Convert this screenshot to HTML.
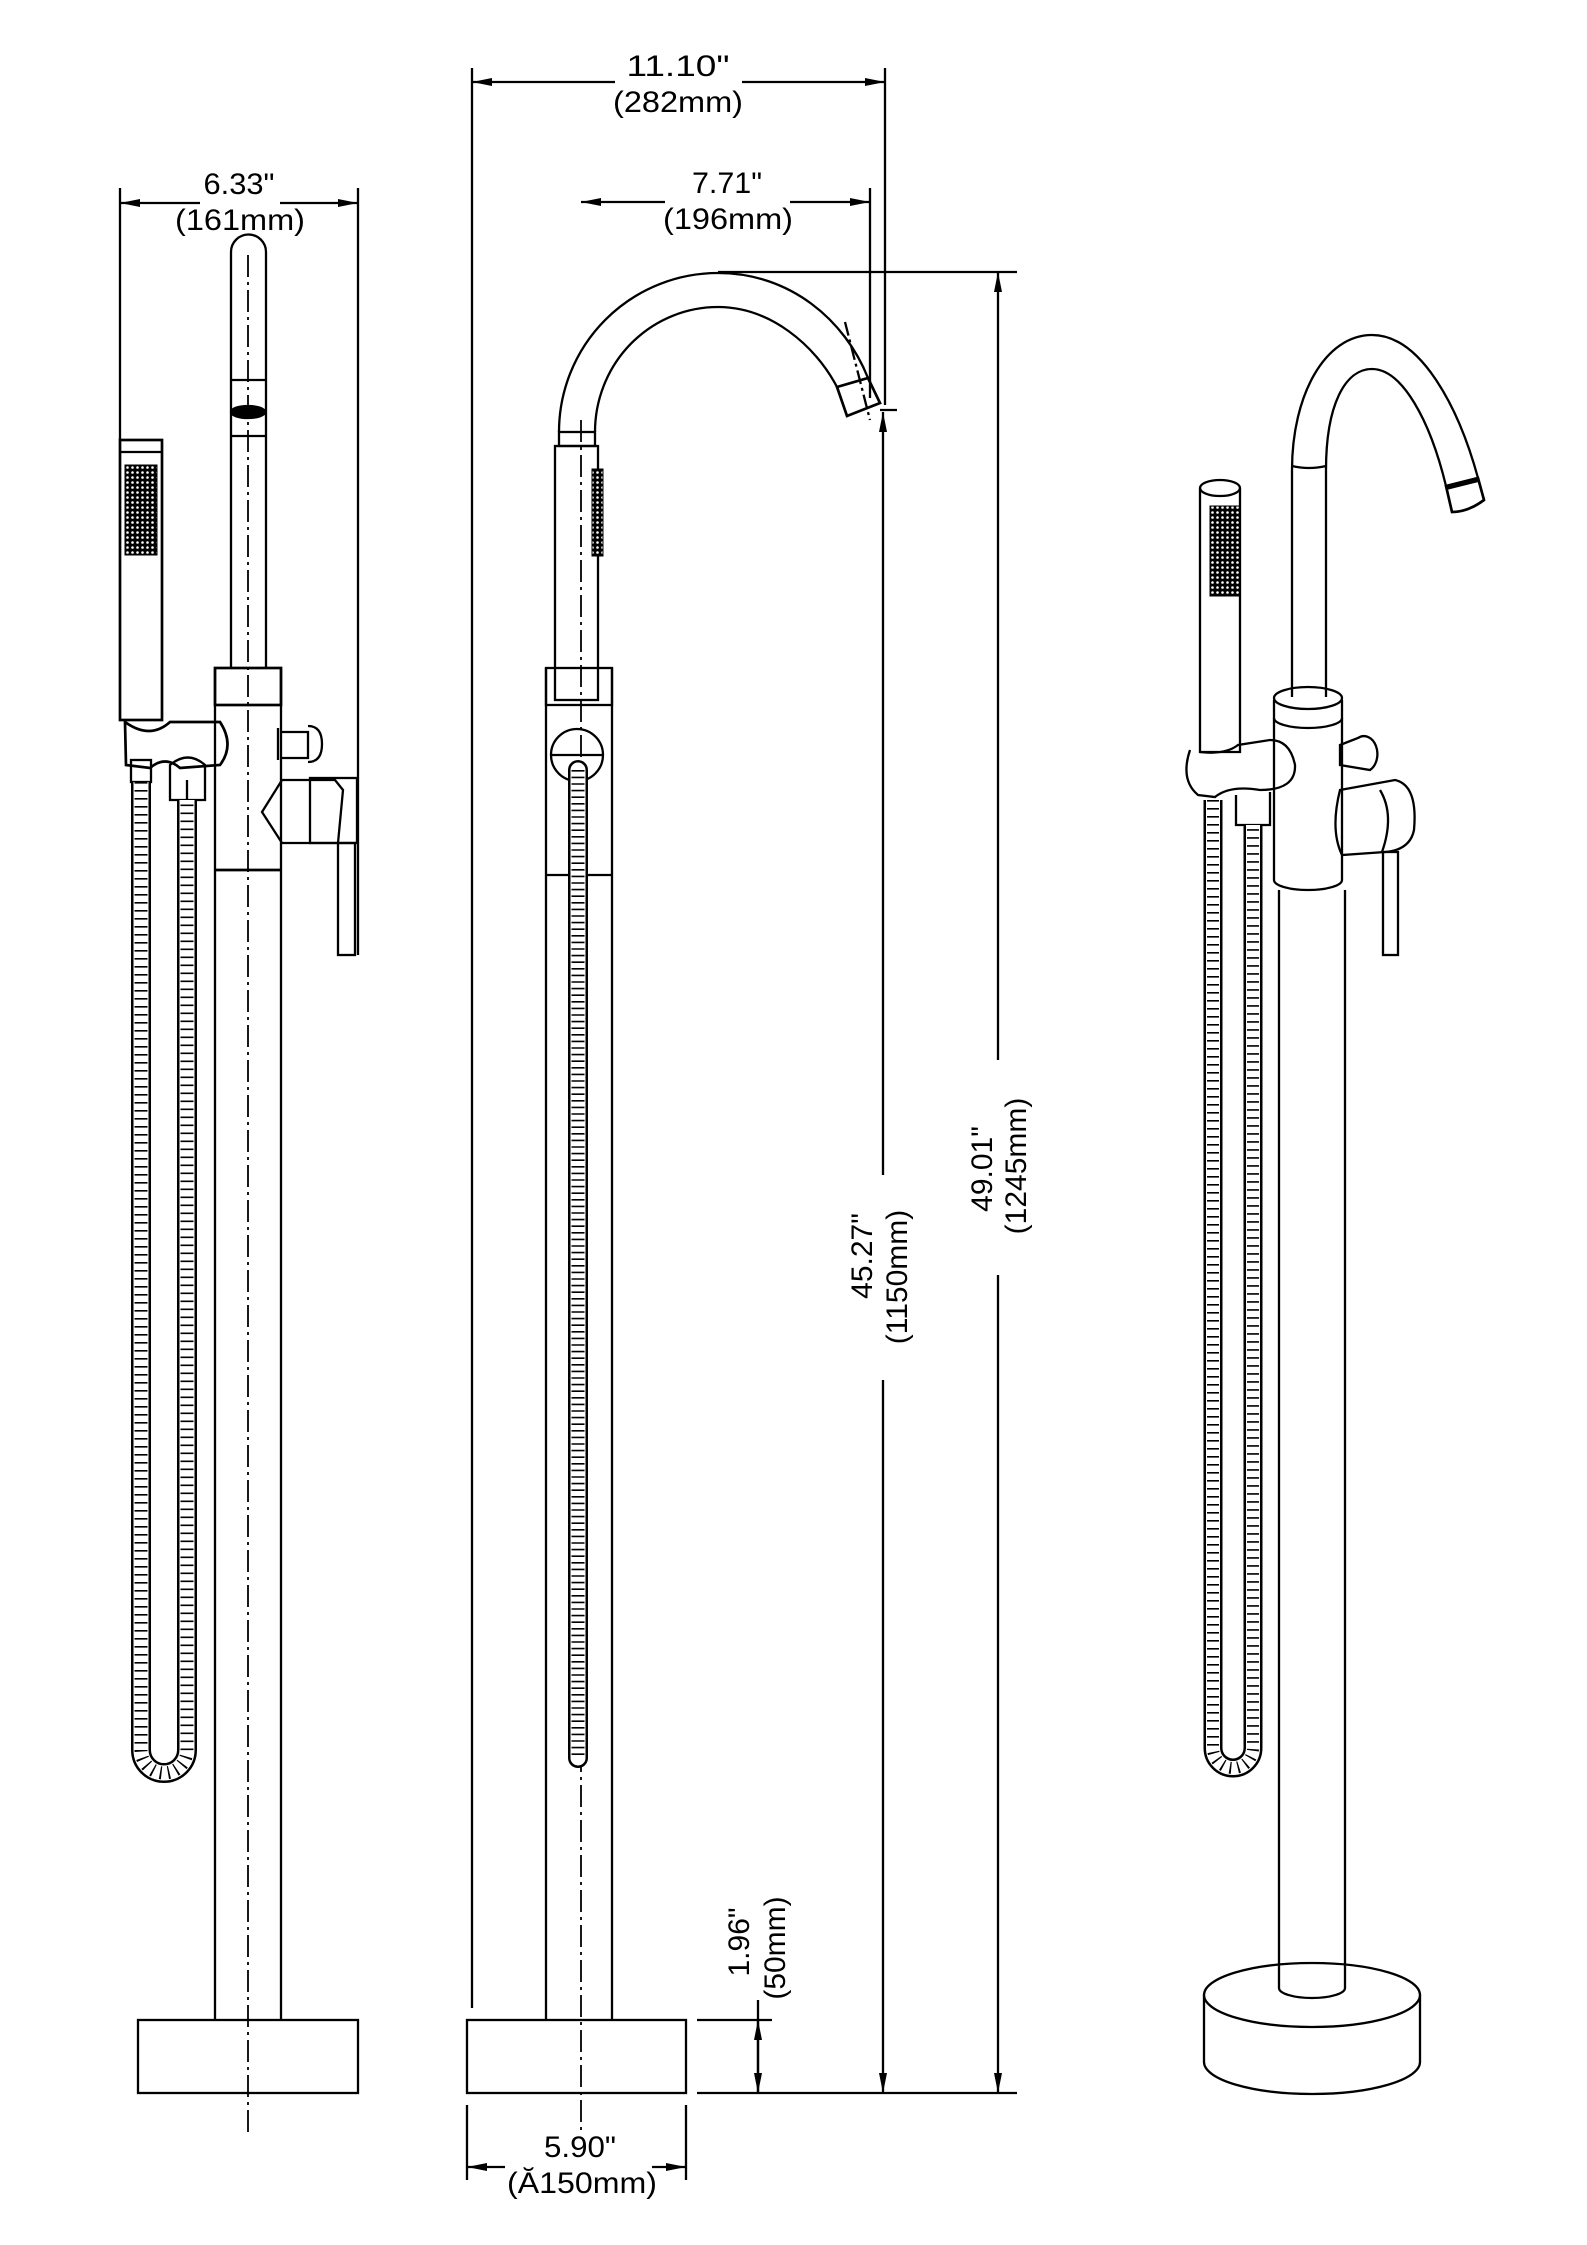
<!DOCTYPE html>
<html><head><meta charset="utf-8"><style>
html,body{margin:0;padding:0;background:#fff;}
svg{display:block;}
text{font-family:"Liberation Sans",sans-serif;fill:#000;}
</style></head><body>
<svg width="1587" height="2245" viewBox="0 0 1587 2245" xmlns="http://www.w3.org/2000/svg">
<defs>
<marker id="a" viewBox="0 0 20 8" refX="20" refY="4" markerWidth="20" markerHeight="8" markerUnits="userSpaceOnUse" orient="auto-start-reverse"><path d="M0,0 L20,4 L0,8 Z" fill="#000"/></marker>
<pattern id="g" width="5" height="5" patternUnits="userSpaceOnUse"><rect width="5" height="5" fill="#000"/><circle cx="2.5" cy="2.5" r="1.3" fill="#fff"/></pattern>
</defs>
<g fill="none" stroke="#000" stroke-width="2.3">
<line x1="472" y1="68" x2="472" y2="2008"/>
<line x1="885" y1="68" x2="885" y2="405"/>
<line x1="472" y1="82" x2="615" y2="82" marker-start="url(#a)"/>
<line x1="742" y1="82" x2="885" y2="82" marker-end="url(#a)"/>
<line x1="120" y1="188" x2="120" y2="440"/>
<line x1="358" y1="188" x2="358" y2="955"/>
<line x1="120" y1="203" x2="200" y2="203" marker-start="url(#a)"/>
<line x1="280" y1="203" x2="358" y2="203" marker-end="url(#a)"/>
<line x1="870" y1="188" x2="870" y2="398"/>
<line x1="581" y1="202" x2="665" y2="202" marker-start="url(#a)"/>
<line x1="790" y1="202" x2="870" y2="202" marker-end="url(#a)"/>
<line x1="718" y1="272" x2="1017" y2="272"/>
<line x1="697" y1="2093" x2="1017" y2="2093"/>
<line x1="998" y1="272" x2="998" y2="1060" marker-start="url(#a)"/>
<line x1="998" y1="1275" x2="998" y2="2093" marker-end="url(#a)"/>
<line x1="880" y1="410" x2="897" y2="410"/>
<line x1="883" y1="412" x2="883" y2="1175" marker-start="url(#a)"/>
<line x1="883" y1="1380" x2="883" y2="2093" marker-end="url(#a)"/>
<line x1="697" y1="2020" x2="772" y2="2020"/>
<line x1="758" y1="2000" x2="758" y2="2093"/>
<line x1="758" y1="2020" x2="758" y2="2056" marker-start="url(#a)"/>
<line x1="758" y1="2056" x2="758" y2="2093" marker-end="url(#a)"/>
<line x1="467" y1="2105" x2="467" y2="2180"/>
<line x1="686" y1="2105" x2="686" y2="2180"/>
<line x1="467" y1="2167" x2="505" y2="2167" marker-start="url(#a)"/>
<line x1="652" y1="2167" x2="686" y2="2167" marker-end="url(#a)"/>

<!-- LEFT VIEW -->
<line x1="248" y1="255" x2="248" y2="2135" stroke-dasharray="22 5 3 5" stroke-width="1.8"/>
<rect x="138" y="2020" width="220" height="73"/>
<line x1="215" y1="668" x2="215" y2="2020"/>
<line x1="281" y1="668" x2="281" y2="2020"/>
<rect x="215" y="668" width="66" height="37" stroke-width="2.7"/>
<line x1="215" y1="870" x2="281" y2="870" stroke-width="2.7"/>
<path d="M231,668 L231,252 A17.5,17.5 0 0 1 266,252 L266,668"/>
<line x1="231" y1="380" x2="266" y2="380"/>
<line x1="231" y1="436" x2="266" y2="436"/>
<ellipse cx="248" cy="412" rx="17" ry="6" fill="#000"/>
<rect x="120" y="440" width="42" height="280" stroke-width="2.7"/>
<line x1="120" y1="452" x2="162" y2="452"/>
<path d="M125,722 Q150,740 170,722 L220,722 Q235,745 220,765 L180,768 Q165,755 150,768 L126,765 Z" stroke-width="2.7"/>
<path d="M278,728 L278,760 M282,732 L308,732 L308,758 L282,758 M308,726 Q322,726 322,744 Q322,762 308,762"/>
<path d="M282,780 L335,780 L343,790 L338,843 L282,843 L262,812 Z"/>
<rect x="310" y="778" width="47" height="65"/>
<rect x="338" y="843" width="17" height="112"/>
<rect x="131" y="760" width="20" height="22"/>
<path d="M170,765 Q188,750 205,765 L205,800 L170,800 Z"/>
<line x1="187" y1="780" x2="187" y2="800"/>

<!-- MIDDLE VIEW -->
<line x1="581" y1="420" x2="581" y2="2135" stroke-dasharray="22 5 3 5" stroke-width="1.8"/>
<rect x="467" y="2020" width="219" height="73"/>
<line x1="546" y1="668" x2="546" y2="2020"/>
<line x1="612" y1="668" x2="612" y2="2020"/>
<rect x="546" y="668" width="66" height="37"/>
<line x1="546" y1="875" x2="612" y2="875"/>
<path d="M559,432 A159,159 0 0 1 718,273 C790,273 845,320 868,378"/>
<path d="M595,432 A123,125 0 0 1 718,307 C770,307 815,345 837,387"/>
<path d="M837,387 L868,378 L880,403 L847,416 Z" stroke-width="2.7"/>
<line x1="845" y1="322" x2="870" y2="420" stroke-dasharray="14 4 3 4"/>
<rect x="559" y="432" width="36" height="14"/>
<rect x="555" y="446" width="43" height="254"/>
<circle cx="577" cy="755" r="26"/>
<line x1="551" y1="755" x2="603" y2="755"/>

<!-- RIGHT VIEW -->
<path d="M1204,1995 L1204,2062 A108,32 0 0 0 1420,2062 L1420,1995"/>
<ellipse cx="1312" cy="1995" rx="108" ry="32" fill="#fff"/>
<path d="M1279,890 L1279,1988 A33,10 0 0 0 1345,1988 L1345,890"/>
<path d="M1274,700 L1274,880 A34,10 0 0 0 1342,880 L1342,700"/>
<ellipse cx="1308" cy="698" rx="34" ry="11"/>
<path d="M1274,718 A34,10 0 0 0 1342,718"/>
<path d="M1292,697 L1292,470 C1292,395 1325,335 1372,335 C1420,335 1458,405 1478,478"/>
<path d="M1326,697 L1326,470 C1326,405 1345,369 1372,369 C1402,369 1430,420 1446,486"/>
<path d="M1292,466 Q1309,470 1326,466"/>
<path d="M1446,486 L1478,478 L1484,500 Q1468,512 1452,512 Z" stroke-width="2.7"/>
<line x1="1446" y1="488" x2="1478" y2="480" stroke-width="4"/>
<path d="M1200,488 L1200,752 L1240,752 L1240,488"/>
<ellipse cx="1220" cy="488" rx="20" ry="8"/>
<path d="M1190,750 Q1180,780 1198,795 L1215,797 Q1230,785 1260,790 Q1296,790 1295,765 Q1290,740 1270,740 L1238,745 Q1225,755 1200,752"/>
<path d="M1236,795 L1236,825 L1270,825 L1270,792"/>
<path d="M1340,745 L1358,738 A12,16 0 0 1 1370,770 L1340,765 Z"/>
<path d="M1340,790 L1395,780 Q1418,785 1414,830 Q1410,850 1385,852 L1342,855 Q1330,830 1340,790 Z"/>
<path d="M1380,790 Q1395,815 1382,852"/>
<rect x="1383" y="852" width="15" height="103"/>
</g>

<rect x="125" y="465" width="32" height="90" fill="url(#g)" stroke="#000" stroke-width="1"/>
<rect x="592" y="469" width="11" height="87" fill="url(#g)" stroke="#000" stroke-width="1"/>
<rect x="1210" y="506" width="30" height="90" fill="url(#g)" stroke="#000" stroke-width="1"/>

<!-- hoses -->
<g fill="none">
<path d="M141,782 L141,1750 A23,23 0 0 0 187,1750 L187,800" stroke="#000" stroke-width="20"/>
<path d="M141,782 L141,1750 A23,23 0 0 0 187,1750 L187,800" stroke="#fff" stroke-width="15"/>
<path d="M141,782 L141,1750 A23,23 0 0 0 187,1750 L187,800" stroke="#000" stroke-width="13" stroke-dasharray="1.6 6.4"/>
<path d="M578,770 L578,1758" stroke="#000" stroke-width="20" stroke-linecap="round"/>
<path d="M578,770 L578,1758" stroke="#fff" stroke-width="15" stroke-linecap="round"/>
<path d="M578,770 L578,1758" stroke="#000" stroke-width="13" stroke-dasharray="1.6 5"/>
<path d="M1213,800 L1213,1748 A20,20 0 0 0 1253,1748 L1253,825" stroke="#000" stroke-width="19"/>
<path d="M1213,800 L1213,1748 A20,20 0 0 0 1253,1748 L1253,825" stroke="#fff" stroke-width="14"/>
<path d="M1213,800 L1213,1748 A20,20 0 0 0 1253,1748 L1253,825" stroke="#000" stroke-width="12" stroke-dasharray="1.6 6.4"/>
</g>

<g font-size="30" text-anchor="middle">
<text x="678" y="76" textLength="103" lengthAdjust="spacingAndGlyphs">11.10"</text>
<text x="678" y="112" textLength="130" lengthAdjust="spacingAndGlyphs">(282mm)</text>
<text x="239" y="194" textLength="71" lengthAdjust="spacingAndGlyphs">6.33"</text>
<text x="240" y="230" textLength="130" lengthAdjust="spacingAndGlyphs">(161mm)</text>
<text x="727" y="193" textLength="70" lengthAdjust="spacingAndGlyphs">7.71"</text>
<text x="728" y="229" textLength="130" lengthAdjust="spacingAndGlyphs">(196mm)</text>
<text x="580" y="2157" textLength="72" lengthAdjust="spacingAndGlyphs">5.90"</text>
<text x="582" y="2193" textLength="150" lengthAdjust="spacingAndGlyphs">(Ă150mm)</text>
<text transform="translate(862,1256) rotate(-90)" dy="10">45.27"</text>
<text transform="translate(897,1277) rotate(-90)" dy="10">(1150mm)</text>
<text transform="translate(982,1169) rotate(-90)" dy="10">49.01"</text>
<text transform="translate(1016,1166) rotate(-90)" dy="10">(1245mm)</text>
<text transform="translate(739,1942) rotate(-90)" dy="10">1.96"</text>
<text transform="translate(775,1948) rotate(-90)" dy="10">(50mm)</text>
</g>
</svg>
</body></html>
